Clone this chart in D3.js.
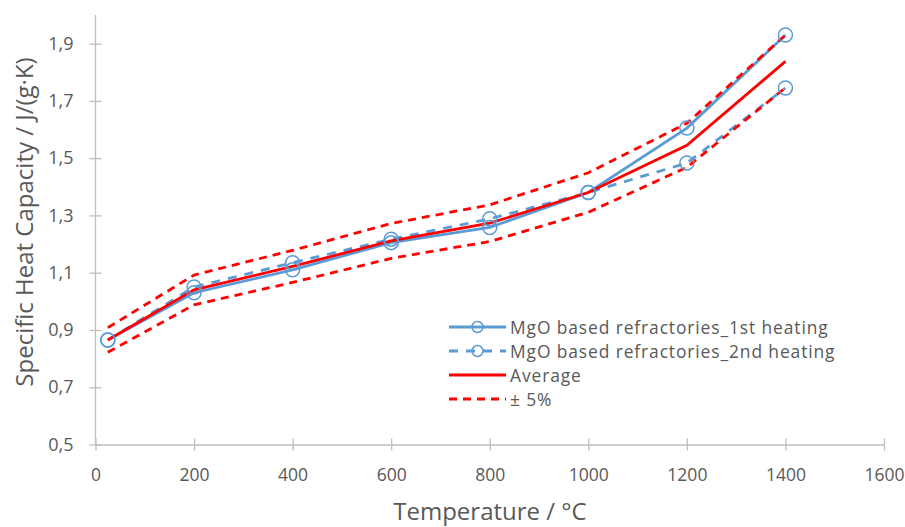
<!DOCTYPE html>
<html><head><meta charset="utf-8">
<script src="https://cdn.jsdelivr.net/npm/d3@7"></script>
<style>body{margin:0;background:#fff}svg{display:block}text{font-family:"Open Sans",sans-serif;fill:#595959}</style>
</head><body>
<svg id="c" width="905" height="527"></svg>
<script>
const temps = [25, 200, 400, 600, 800, 1000, 1200, 1400];
const heating1 = [0.865, 1.03, 1.11, 1.205, 1.258, 1.38, 1.605, 1.93];
const heating2 = [0.865, 1.05, 1.135, 1.217, 1.288, 1.38, 1.483, 1.745];
const average = [0.865, 1.04, 1.122, 1.211, 1.273, 1.38, 1.545, 1.838];
const upper5 = [0.908, 1.092, 1.178, 1.272, 1.337, 1.449, 1.622, 1.93];
const lower5 = [0.822, 0.988, 1.066, 1.150, 1.209, 1.311, 1.468, 1.746];
const xTicks = [0, 200, 400, 600, 800, 1000, 1200, 1400, 1600];
const yTicks = [0.5, 0.7, 0.9, 1.1, 1.3, 1.5, 1.7, 1.9];
const legendLabels = ["MgO based refractories_1st heating", "MgO based refractories_2nd heating", "Average", "\u00b1 5%"];

const svg = d3.select("#c");
const x = d3.scaleLinear().domain([0, 1600]).range([95.5, 884]);
const y = d3.scaleLinear().domain([0.5, 2.0]).range([444.5, 15]);
const blue = "#5B9BD5", red = "#FF0000", grey = "#BFBFBF";

// axes
const xa = svg.append("g").attr("transform", "translate(0,444.5)")
  .call(d3.axisBottom(x).tickValues(xTicks).tickSize(0).tickPadding(24).tickFormat(d3.format("d")));
xa.select(".domain").attr("stroke", grey).attr("stroke-width", 1.3);
xa.selectAll(".tick").append("line").attr("y1", -6).attr("y2", 6).attr("stroke", grey).attr("stroke-width", 1.3);
xa.selectAll("text").style("font-size", "17.5px").attr("fill", "#595959");

const ya = svg.append("g").attr("transform", "translate(95.5,0)")
  .call(d3.axisLeft(y).tickValues(yTicks).tickSize(0).tickPadding(22).tickFormat(d => d3.format(".1f")(d).replace(".", ",")));
ya.select(".domain").attr("stroke", grey).attr("stroke-width", 1.3).attr("d", `M0,${y(2.0)}V${y(0.5)}`);
ya.selectAll(".tick").append("line").attr("x1", -6).attr("x2", 6).attr("stroke", grey).attr("stroke-width", 1.3);
ya.selectAll("text").style("font-size", "18px").attr("fill", "#595959");

svg.append("text").attr("x", 490).attr("y", 520).attr("text-anchor", "middle")
  .style("font-size", "24px").text("Temperature / \u00b0C");
svg.append("text").attr("transform", "translate(33,222) rotate(-90)").attr("text-anchor", "middle")
  .style("font-size", "24px").text("Specific Heat Capacity / J/(g\u00b7K)");

const line = d3.line().x((d, i) => x(temps[i])).y(d => y(d));
const series = [
  {vals: heating2, color: blue, dash: "9,8", w: 2.8},
  {vals: heating1, color: blue, dash: null, w: 2.8},
  {vals: upper5, color: red, dash: "8,6", w: 2.8},
  {vals: lower5, color: red, dash: "8,6", w: 2.8},
  {vals: average, color: red, dash: null, w: 2.8},
];
series.forEach(s => {
  svg.append("path").attr("d", line(s.vals)).attr("fill", "none").attr("stroke", s.color)
    .attr("stroke-width", s.w).attr("stroke-dasharray", s.dash);
});
[heating1, heating2].forEach(v => {
  svg.append("g").selectAll("circle").data(v).join("circle")
    .attr("cx", (d, i) => x(temps[i])).attr("cy", d => y(d)).attr("r", 7)
    .attr("fill", "none").attr("stroke", blue).attr("stroke-width", 1.5);
});

// legend
const lg = svg.append("g");
const styles = [
  {color: blue, dash: null, marker: true},
  {color: blue, dash: "9,8", marker: true},
  {color: red, dash: null, marker: false},
  {color: red, dash: "8,6", marker: false},
];
legendLabels.forEach((t, i) => {
  const yy = 327 + i * 24;
  const s = styles[i];
  lg.append("line").attr("x1", 449).attr("x2", 506).attr("y1", yy).attr("y2", yy)
    .attr("stroke", s.color).attr("stroke-width", 2.8).attr("stroke-dasharray", s.dash);
  if (s.marker) lg.append("circle").attr("cx", 477.5).attr("cy", yy).attr("r", 5.5)
    .attr("fill", "none").attr("stroke", blue).attr("stroke-width", 1.5);
  lg.append("text").attr("x", 510).attr("y", yy + 6.5).style("font-size", "17.4px")
    .style("letter-spacing", "0.9px").text(t);
});
</script>
</body></html>
